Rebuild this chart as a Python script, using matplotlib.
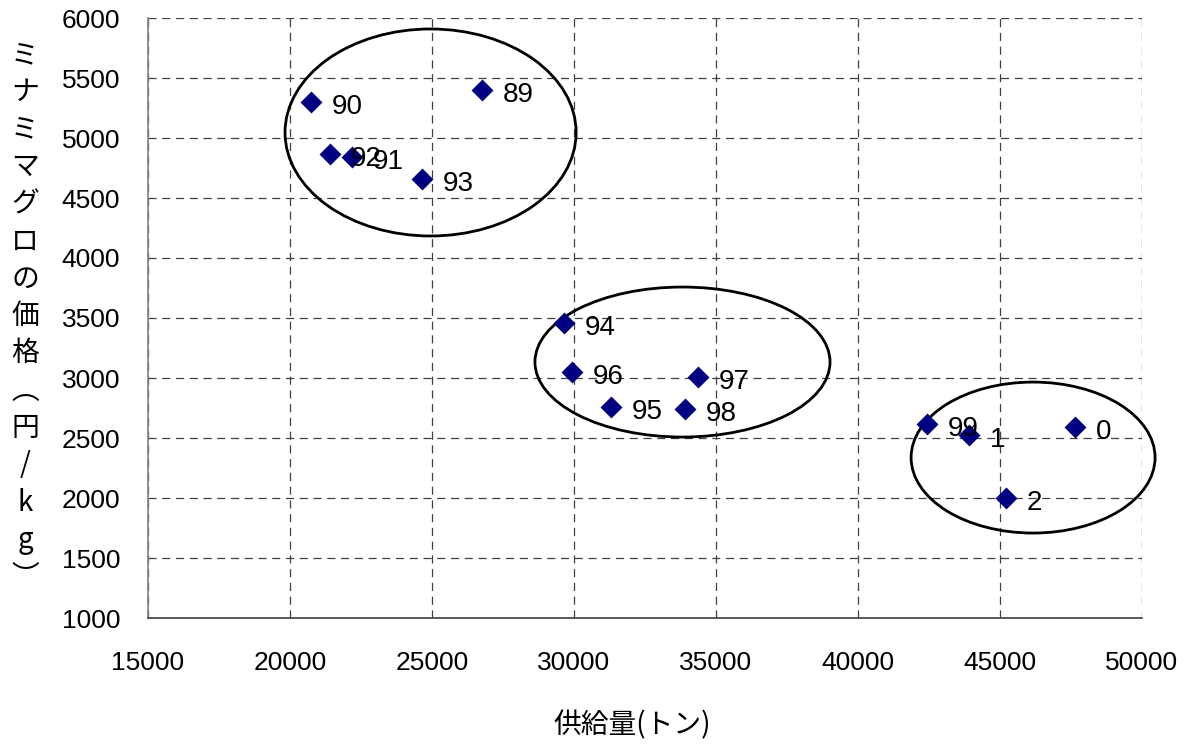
import matplotlib
matplotlib.use("Agg")
import matplotlib.pyplot as plt
from matplotlib.patches import Ellipse

# ---- data ----
years = ["89", "90", "91", "92", "93", "94", "95", "96", "97", "98", "99", "0", "1", "2"]
supply = [26760, 20740, 22180, 21410, 24650, 29650, 31300, 29930, 34370, 33910, 42430, 47640, 43910, 45210]
price = [5400, 5300, 4842, 4867, 4658, 3458, 2758, 3050, 3008, 2742, 2617, 2592, 2525, 2000]

x_ticks = [15000, 20000, 25000, 30000, 35000, 40000, 45000, 50000]
y_ticks = [1000, 1500, 2000, 2500, 3000, 3500, 4000, 4500, 5000, 5500, 6000]

x_label = "供給量(トン)"
y_label_chars = ["ミ", "ナ", "ミ", "マ", "グ", "ロ", "の", "価", "格", "︵", "円", "/", "k", "g", "︶"]

# group outlines (centre x, centre y, width, height) in data units
groups = [(24950, 5046, 10250, 1725),
          (33820, 3133, 10390, 1250),
          (46165, 2337, 8590, 1258)]

# ---- figure ----
W, H = 1190, 749
fig = plt.figure(figsize=(W / 100, H / 100), dpi=100)
ax = fig.add_axes([148 / W, 1 - 618 / H, (1142 - 148) / W, (618 - 18) / H])

num_font = "Liberation Sans"
jp_font = ["Noto Sans CJK JP", "DejaVu Sans"]

ax.set_xlim(x_ticks[0], x_ticks[-1])
ax.set_ylim(y_ticks[0], y_ticks[-1])
ax.set_xticks(x_ticks)
ax.set_yticks(y_ticks)
ax.set_xticklabels([str(v) for v in x_ticks], fontfamily=num_font, fontsize=19)
ax.set_yticklabels([str(v) for v in y_ticks], fontfamily=num_font, fontsize=19)
ax.tick_params(axis="both", length=0)
ax.tick_params(axis="y", pad=20)
ax.tick_params(axis="x", pad=24)

for s in ["top", "right"]:
    ax.spines[s].set_visible(False)
ax.spines["left"].set_color("#808080")
ax.spines["left"].set_linewidth(1.2)
ax.spines["bottom"].set_color("#404040")
ax.spines["bottom"].set_linewidth(1.2)

ax.grid(True, color="#404040", linestyle=(0, (6.5, 4.5)), linewidth=0.9)
ax.set_axisbelow(True)

ax.scatter(supply, price, marker="D", s=125, color="#000080", zorder=3, linewidths=0)

for lab, x, y in zip(years, supply, price):
    ax.annotate(lab, (x, y), xytext=(15, -3.5), textcoords="offset points",
                ha="left", va="center", fontsize=20, fontfamily=num_font, zorder=4)

for cx, cy, w, h in groups:
    e = Ellipse((cx, cy), w, h, fill=False, edgecolor="black", linewidth=2, clip_on=False, zorder=2)
    ax.add_patch(e)

fig.text(632 / W, 1 - 725 / H, x_label, ha="center", va="center", fontsize=20, fontfamily=jp_font)

y0, step = 55, 37.3
for i, ch in enumerate(y_label_chars):
    fig.text(25 / W, 1 - (y0 + i * step) / H, ch, ha="center", va="center", fontsize=20,
             fontfamily=jp_font)

fig.savefig("out.png", dpi=100)
